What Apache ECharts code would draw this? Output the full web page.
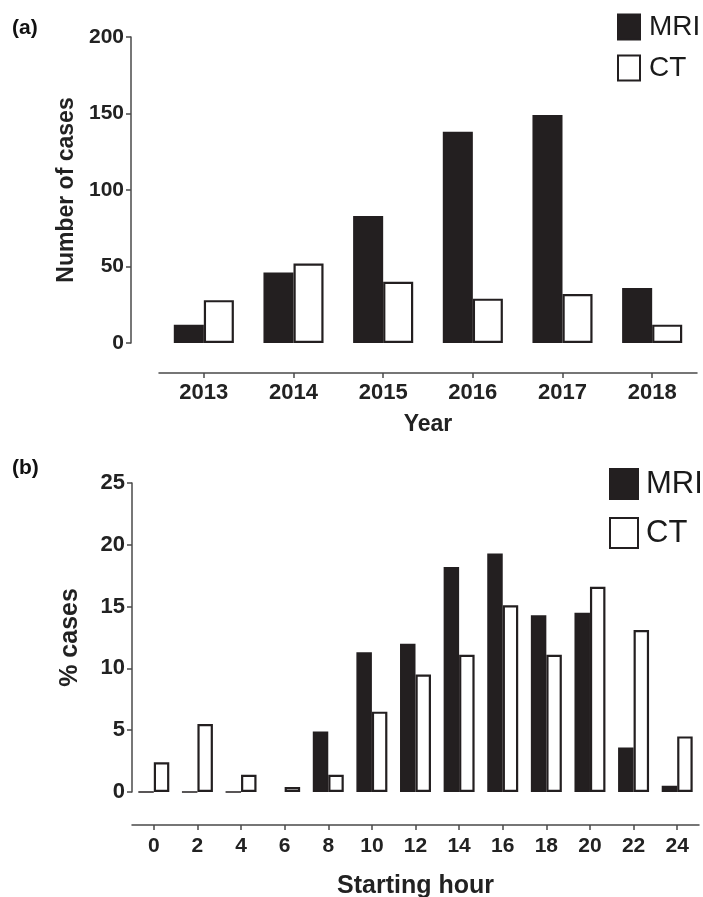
<!DOCTYPE html>
<html>
<head>
<meta charset="utf-8">
<script src="https://cdn.jsdelivr.net/npm/echarts@6/dist/echarts.min.js"></script>
<style>html,body{margin:0;padding:0;background:#fff;}#c{width:703px;height:897px;}</style>
</head>
<body>
<div id="c"></div>
<script>
const years = ['2013', '2014', '2015', '2016', '2017', '2018'];
const mriYear = [12, 46, 83, 138, 149, 36];
const ctYear = [28, 52, 40, 29, 32, 12];

const hours = ['0', '2', '4', '6', '8', '10', '12', '14', '16', '18', '20', '22', '24'];
const mriHour = [0, 0, 0, '-', 4.9, 11.3, 12.0, 18.2, 19.3, 14.3, 14.5, 3.6, 0.5];
const ctHour = [2.4, 5.5, 1.4, 0.4, 1.4, 6.5, 9.5, 11.1, 15.1, 11.1, 16.6, 13.1, 4.5];

const FONT = "'Liberation Sans', Arial, sans-serif";
const INK = '#231f20';
const AXIS = '#4a4a4a';

function axisLineStyle() { return { show: true, onZero: false, lineStyle: { color: AXIS, width: 1.5 } }; }

const chart = echarts.init(document.getElementById('c'));
chart.setOption({
  backgroundColor: '#fff',
  animation: false,
  title: [
    { text: '(a)', left: 7, top: 13, textStyle: { fontFamily: FONT, fontWeight: 'bold', fontSize: 21, color: '#111' } },
    { text: '(b)', left: 7, top: 453, textStyle: { fontFamily: FONT, fontWeight: 'bold', fontSize: 21, color: '#111' } }
  ],
  legend: [
    { orient: 'vertical', left: 612, top: 8, itemWidth: 22, itemHeight: 25, itemGap: 13, icon: 'rect',
      data: ['MRI', 'CT'],
      textStyle: { fontFamily: FONT, fontSize: 28, color: '#1a1a1a', lineHeight: 28, padding: [0, 0, 0, 4] } },
    { orient: 'vertical', left: 604, top: 463, itemWidth: 28, itemHeight: 30, itemGap: 17, icon: 'rect',
      data: ['MRI', 'CT'],
      textStyle: { fontFamily: FONT, fontSize: 31, color: '#1a1a1a', lineHeight: 32, padding: [0, 0, 0, 3] } }
  ],
  grid: [
    { left: 159, right: 6, top: 37, bottom: 554, outerBoundsMode: 'none' },
    { left: 132, right: 4, top: 483, bottom: 105, outerBoundsMode: 'none' }
  ],
  xAxis: [
    { type: 'category', gridIndex: 0, data: years, offset: 30,
      axisLine: axisLineStyle(), axisTick: { show: true, alignWithLabel: true, length: 5, lineStyle: { color: AXIS, width: 1.5 } },
      axisLabel: { fontFamily: FONT, fontWeight: 'bold', fontSize: 22, color: '#222', margin: 9 },
      name: 'Year', nameLocation: 'middle', nameGap: 40,
      nameTextStyle: { fontFamily: FONT, fontWeight: 'bold', fontSize: 23, color: '#222' } },
    { type: 'category', gridIndex: 1, data: hours, offset: 33,
      axisLine: axisLineStyle(), axisTick: { show: true, alignWithLabel: true, length: 5, lineStyle: { color: AXIS, width: 1.5 } },
      axisLabel: { fontFamily: FONT, fontWeight: 'bold', fontSize: 21, color: '#222', margin: 11 },
      name: 'Starting hour', nameLocation: 'middle', nameGap: 49,
      nameTextStyle: { fontFamily: FONT, fontWeight: 'bold', fontSize: 25, color: '#222' } }
  ],
  yAxis: [
    { type: 'value', gridIndex: 0, min: 0, max: 200, interval: 50, offset: 28,
      splitLine: { show: false },
      axisLine: axisLineStyle(), axisTick: { show: true, length: 5, lineStyle: { color: AXIS, width: 1.5 } },
      axisLabel: { fontFamily: FONT, fontWeight: 'bold', fontSize: 21, color: '#222', margin: 7 },
      name: 'Number of cases', nameLocation: 'middle', nameGap: 48,
      nameTextStyle: { fontFamily: FONT, fontWeight: 'bold', fontSize: 23, color: '#222' } },
    { type: 'value', gridIndex: 1, min: 0, max: 25, interval: 5,
      splitLine: { show: false },
      axisLine: axisLineStyle(), axisTick: { show: true, length: 5, lineStyle: { color: AXIS, width: 1.5 } },
      axisLabel: { fontFamily: FONT, fontWeight: 'bold', fontSize: 22, color: '#222', margin: 7 },
      name: '% cases', nameLocation: 'middle', nameGap: 49,
      nameTextStyle: { fontFamily: FONT, fontWeight: 'bold', fontSize: 25, color: '#222' } }
  ],
  series: [
    { name: 'MRI', type: 'bar', xAxisIndex: 0, yAxisIndex: 0, data: mriYear, barGap: '0%', barCategoryGap: '33%',
      itemStyle: { color: INK, borderColor: INK, borderWidth: 1.5 } },
    { name: 'CT', type: 'bar', xAxisIndex: 0, yAxisIndex: 0, data: ctYear, barGap: '0%', barCategoryGap: '33%',
      itemStyle: { color: '#fff', borderColor: INK, borderWidth: 2.2 } },
    { name: 'MRI', type: 'bar', xAxisIndex: 1, yAxisIndex: 1, data: mriHour, barGap: '0%', barCategoryGap: '29%',
      itemStyle: { color: INK, borderColor: INK, borderWidth: 1.5 } },
    { name: 'CT', type: 'bar', xAxisIndex: 1, yAxisIndex: 1, data: ctHour, barGap: '0%', barCategoryGap: '29%',
      itemStyle: { color: '#fff', borderColor: INK, borderWidth: 2.2 } }
  ]
});
</script>
</body>
</html>
